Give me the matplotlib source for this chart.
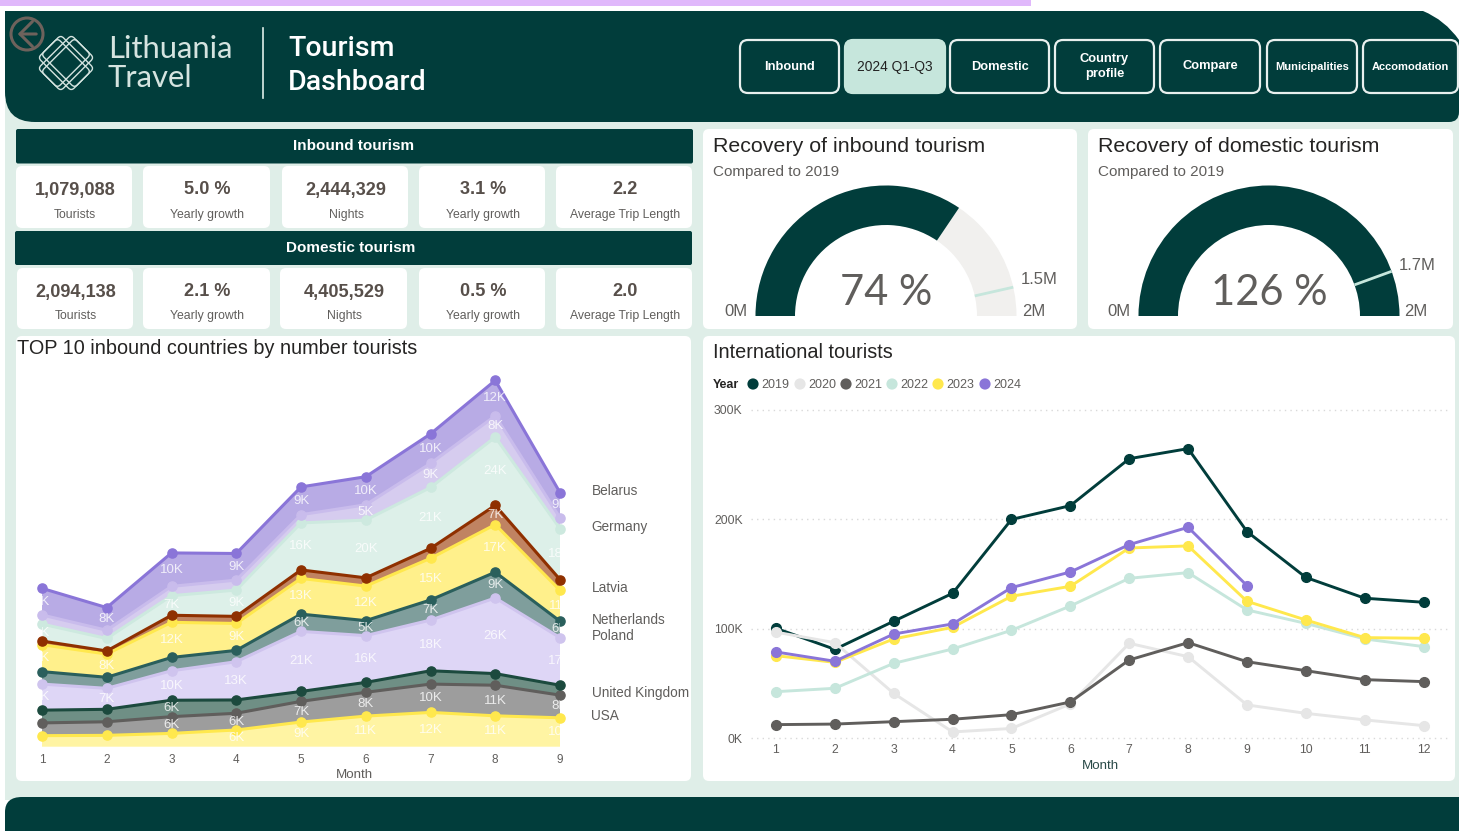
import numpy as np
import matplotlib
matplotlib.use("Agg")
import matplotlib.pyplot as plt
from matplotlib.patches import FancyBboxPatch, Rectangle, Wedge, PathPatch, Circle, FancyArrowPatch
from matplotlib.path import Path
from matplotlib.transforms import Affine2D

# ---------- data ----------
months_stack = [1, 2, 3, 4, 5, 6, 7, 8, 9]
usa_k       = [3.9, 4.0, 4.7, 5.9, 8.7, 10.8, 12.1, 10.9, 10.2]
grey_k      = [4.5, 4.8, 5.9, 5.9, 7.3, 8.4, 10.0, 10.8, 8.0]
uk_k        = [4.5, 4.4, 5.8, 4.7, 3.5, 3.5, 4.7, 4.1, 3.5]
poland_k    = [9.2, 7.4, 10.4, 13.5, 21.2, 16.5, 17.9, 26.7, 16.8]
nether_k    = [4.4, 3.9, 4.7, 4.0, 6.1, 5.3, 7.1, 9.1, 5.8]
yellow_k    = [9.5, 8.2, 12.4, 9.5, 12.6, 12.2, 14.7, 16.8, 10.9]
latvia_k    = [1.3, 1.1, 2.5, 2.5, 3.0, 2.9, 3.5, 6.8, 3.8]
mint_k      = [6.0, 4.4, 6.9, 9.3, 16.6, 20.4, 21.5, 24.1, 18.0]
germany_k   = [3.2, 2.9, 3.3, 3.5, 2.9, 5.4, 8.5, 7.5, 3.8]
belarus_k   = [9.4, 8.0, 11.8, 9.4, 9.8, 9.9, 10.4, 12.5, 8.9]
stack_values = [usa_k, grey_k, uk_k, poland_k, nether_k, yellow_k, latvia_k, mint_k, germany_k, belarus_k]
stack_line_colors = ['#ffe84d', '#605e5c', '#1c4a3e', '#cfc4ee', '#2a5f5c', '#ffe84d', '#8f3000', '#cde9df', '#c9bcec', '#8a75d8']
stack_fill_colors = ['#fff4a3', '#9d9d9d', '#6f8f85', '#ded6f6', '#7f9e9c', '#fff08b', '#c08362', '#ddf0e9', '#d6ccef', '#b8abe5']
stack_labels = [
    ['', '', '', '6K', '9K', '11K', '12K', '11K', '10K'],
    ['', '', '6K', '6K', '7K', '8K', '10K', '11K', '8K'],
    ['', '', '6K', '', '', '', '', '', ''],
    ['9K', '7K', '10K', '13K', '21K', '16K', '18K', '26K', '17K'],
    ['', '', '', '', '6K', '5K', '7K', '9K', '6K'],
    ['9K', '8K', '12K', '9K', '13K', '12K', '15K', '17K', '11K'],
    ['', '', '', '', '', '', '', '7K', ''],
    ['6K', '', '7K', '9K', '16K', '20K', '21K', '24K', '18K'],
    ['', '', '', '', '', '5K', '9K', '8K', ''],
    ['9K', '8K', '10K', '9K', '9K', '10K', '10K', '12K', '9K'],
]
end_names = ['Belarus', 'Germany', 'Latvia', 'Netherlands', 'Poland', 'United Kingdom', 'USA']

months_line = [1, 2, 3, 4, 5, 6, 7, 8, 9, 10, 11, 12]
y2019 = [100.5, 81.3, 107, 132.5, 200, 212.6, 255.5, 264.7, 188.9, 147, 128, 124.3]
y2020 = [97, 87.4, 41, 5.8, 9, 31.4, 86.8, 74.6, 30.5, 22.8, 16.8, 11.6]
y2021 = [12.5, 13, 15.2, 17.4, 21.6, 33.2, 71.6, 87.4, 70, 61.8, 53.6, 51.8]
y2022 = [42.6, 45.7, 68.5, 81.6, 98.7, 120.9, 146.2, 151.4, 117.3, 105, 90.8, 83.8]
y2023 = [75.5, 69.4, 90.8, 101.4, 129.8, 138.9, 173.9, 175.8, 125.2, 108.1, 92, 91.4]
y2024 = [78.9, 70.4, 95.3, 104.5, 137.7, 152, 177, 192.8, 139.5]
years = ['2019', '2020', '2021', '2022', '2023', '2024']
year_values = [y2019, y2020, y2021, y2022, y2023, y2024]
year_colors = ['#013d3b', '#e6e6e6', '#605e5c', '#c6e6dc', '#ffe84d', '#8a75d8']
yticks_k = [0, 100, 200, 300]
ytick_labels = ['0K', '100K', '200K', '300K']

kpi_top = [('1,079,088', 'Tourists'), ('5.0 %', 'Yearly growth'), ('2,444,329', 'Nights'),
           ('3.1 %', 'Yearly growth'), ('2.2', 'Average Trip Length')]
kpi_bot = [('2,094,138', 'Tourists'), ('2.1 %', 'Yearly growth'), ('4,405,529', 'Nights'),
           ('0.5 %', 'Yearly growth'), ('2.0', 'Average Trip Length')]
buttons = ['Inbound', '2024 Q1-Q3', 'Domestic', 'Country\nprofile', 'Compare', 'Municipalities', 'Accomodation']

gauge_values = [1.079, 2.094]
gauge_targets = [1.455, 1.662]
gauge_max = [1.566, 1.87]
gauge_text = ['74 %', '126 %']
gauge_target_text = ['1.5M', '1.7M']

# ---------- page ----------
W, H = 1459, 831
DARK = '#013d3b'
MINT = '#dfeee8'
GREY = '#605e5c'
plt.rcParams['font.family'] = ['Liberation Sans', 'DejaVu Sans']
fig = plt.figure(figsize=(W / 100, H / 100), dpi=100, facecolor='white')
bg = fig.add_axes([0, 0, 1, 1], zorder=0)
bg.set_xlim(0, W); bg.set_ylim(H, 0); bg.axis('off')


def T(x, y, s, size, color=GREY, ha='center', va='center', **kw):
    return bg.text(x, y, s, fontsize=size, color=color, ha=ha, va=va, **kw)


def card(x0, y0, x1, y1, fc='white', ec='none', r=6, lw=0, z=2):
    bg.add_patch(FancyBboxPatch((x0, y0), x1 - x0, y1 - y0, boxstyle=f'round,pad=0,rounding_size={r}',
                                fc=fc, ec=ec, lw=lw, zorder=z))


bg.add_patch(Rectangle((5, 100), W - 5, 700, fc=MINT, ec='none', zorder=1))
bg.add_patch(Rectangle((0, 0), 1031, 6, fc='#e0b8fb', ec='none', zorder=1))

# header
verts = [(5, 11), (1423, 11), (1445, 20), (1459, 40), (1459, 112), (1459, 122), (1449, 122),
         (35, 122), (5, 122), (5, 92), (5, 11)]
codes = [Path.MOVETO, Path.LINETO, Path.CURVE3, Path.CURVE3, Path.LINETO, Path.CURVE3, Path.CURVE3,
         Path.LINETO, Path.CURVE3, Path.CURVE3, Path.CLOSEPOLY]
bg.add_patch(PathPatch(Path(verts, codes), fc=DARK, ec='none', zorder=2))
# footer
verts = [(5, 831), (5, 812), (5, 797), (22, 797), (W, 797), (W, 831), (5, 831)]
codes = [Path.MOVETO, Path.LINETO, Path.CURVE3, Path.CURVE3, Path.LINETO, Path.LINETO, Path.CLOSEPOLY]
bg.add_patch(PathPatch(Path(verts, codes), fc=DARK, ec='none', zorder=2))

# logo
cx, cy = 66, 63
tr = Affine2D().rotate_deg_around(cx, cy, 45) + bg.transData
for half in (11.5, 16):
    for w, h in ((23.5, half), (half, 23.5)):
        bg.add_patch(FancyBboxPatch((cx - w, cy - h), 2 * w, 2 * h, boxstyle='round,pad=0,rounding_size=4',
                                    fc='none', ec='#d5e4e0', lw=1.0, zorder=3, transform=tr))
bg.add_patch(Circle((27, 34), 16, fc='none', ec='#6e625c', lw=2.2, zorder=4))
bg.add_patch(FancyArrowPatch((39, 34), (15, 34), arrowstyle='->,head_length=6,head_width=6', color='#6e625c',
                             lw=2.2, zorder=4, mutation_scale=1.5))
T(108, 49, 'Lithuania', 22.3, '#d5e4e0', ha='left', family='Lato', zorder=5)
T(108, 78, 'Travel', 22.3, '#d5e4e0', ha='left', family='Lato', zorder=5)
bg.plot([263, 263], [28, 98], color='#dfeee8', lw=1.2, zorder=5)
T(288, 49, 'Tourism', 20.5, 'white', ha='left', family='Roboto', weight='medium', zorder=5)
T(288, 82.5, 'Dashboard', 20.5, 'white', ha='left', family='Roboto', weight='medium', zorder=5)

btn_x = [(740, 839), (845, 945), (950, 1049), (1055, 1154), (1160, 1260), (1267, 1357), (1363, 1458)]
for i, (label, (a, b)) in enumerate(zip(buttons, btn_x)):
    active = i == 1
    card(a, 40, b, 93, fc='#c6e6dc' if active else DARK, ec='#c6e6dc' if active else '#e8f0ee', lw=1.6, r=8, z=3)
    size = 8 if i >= 5 else (9.9 if active else 9.3)
    T((a + b) / 2, 66.5, label, size, '#222222' if active else 'white', weight='normal' if active else 'bold',
      zorder=5, linespacing=1.35)

# KPI bars
card(16, 129, 693, 163.5, fc=DARK, r=2)
card(15, 231, 692, 265, fc=DARK, r=2)
T(354, 146, 'Inbound tourism', 11, 'white', weight='bold', zorder=5)
T(351, 247.5, 'Domestic tourism', 11, 'white', weight='bold', zorder=5)
xs_top = [(16, 132), (143, 270), (282, 408), (419, 545), (556, 692)]
xs_bot = [(17, 133), (143, 270), (280, 407), (419, 545), (556, 692)]
for xs, kpi, y0, y1, yv, ys in ((xs_top, kpi_top, 166, 228, 190, 215), (xs_bot, kpi_bot, 268, 329, 292, 316)):
    for (a, b), (val, sub) in zip(xs, kpi):
        card(a, y0, b, y1)
        T((a + b) / 2 + 1, yv, val, 13.1, '#574f4a', weight='bold', zorder=5)
        T((a + b) / 2 + 1, ys, sub, 8.8, GREY, zorder=5)

# gauges
panels = [(703, 1077), (1088, 1453)]
centers = [886, 1269]
titles = ['Recovery of inbound tourism', 'Recovery of domestic tourism']
for i, ((a, b), cx) in enumerate(zip(panels, centers)):
    card(a, 129, b, 329)
    T(a + 10, 146, titles[i], 15.4, '#252423', ha='left', zorder=5)
    T(a + 10, 172, 'Compared to 2019', 11, GREY, ha='left', zorder=5)
    frac = min(gauge_values[i] / gauge_max[i], 1)
    bg.add_patch(Wedge((cx, 316), 130.5, 180, 360, width=39.5, fc='#f1f0ee', ec='none', zorder=3))
    bg.add_patch(Wedge((cx, 316), 130.5, 180, 180 + 180 * frac, width=39.5, fc=DARK, ec='none', zorder=4))
    ang = np.pi * (1 - gauge_targets[i] / gauge_max[i])
    bg.plot([cx + 91 * np.cos(ang), cx + 130.5 * np.cos(ang)], [316 - 91 * np.sin(ang), 316 - 130.5 * np.sin(ang)],
            color='#c6e6dc', lw=2, zorder=5, solid_capstyle='butt')
    T(cx, 293, gauge_text[i], 30, GREY, family='Lato', zorder=5)
    T(cx - 150, 311, '0M', 12, GREY, zorder=5)
    T(cx + 148 if i == 0 else cx + 147, 311, '2M', 12, GREY, zorder=5)
T(1039, 279, gauge_target_text[0], 12, GREY, zorder=5)
T(1417, 265, gauge_target_text[1], 12, GREY, zorder=5)

# chart panels
card(16, 336, 691, 781)
card(703, 336, 1455, 781)
T(17, 348, 'TOP 10 inbound countries by number tourists', 14.3, '#252423', ha='left', zorder=5)
T(713, 352, 'International tourists', 14.3, '#252423', ha='left', zorder=5)

# ---------- stacked area ----------
X0, X1, Y0, PXK = 42, 560, 746.7, 2.833
YMAX = 140
ax = fig.add_axes([X0 / W, (H - Y0) / H, (X1 - X0) / W, YMAX * PXK / H], zorder=5)
ax.patch.set_alpha(0)
ax.set_xlim(1, 9); ax.set_ylim(0, YMAX)
for s in ax.spines.values():
    s.set_visible(False)
ax.set_yticks([])
ax.stackplot(months_stack, *stack_values, colors=stack_fill_colors, lw=0)
cum = np.cumsum(np.array(stack_values), axis=0)
base = np.vstack([np.zeros(len(months_stack)), cum[:-1]])
for i, c in enumerate(stack_line_colors):
    ax.plot(months_stack, cum[i], color=c, lw=2.2, marker='o', ms=6.6, clip_on=False, zorder=3 + i * .1)
for i, labels in enumerate(stack_labels):
    for m, lab, lo, hi in zip(months_stack, labels, base[i], cum[i]):
        if lab:
            ax.text(m, (lo + hi) / 2, lab, color='white', alpha=0.8, fontsize=9.5, ha='center', va='center',
                    clip_on=True, zorder=6)
ax.set_xticks(months_stack)
ax.tick_params(axis='x', length=0, pad=5, labelsize=8.5, labelcolor=GREY)
T(354.5, 775.5, 'Month', 9.6, GREY, zorder=6)
for name, y in zip(end_names, [491, 526.5, 587.5, 619.5, 635.5, 692.5, 715.5]):
    T(591.5, y, name, 9.8, GREY, ha='left', zorder=6)

# ---------- lines ----------
XL0, XL1, YB, YT = 776.0, 1423.6, 738.3, 410.0
pxm = (XL1 - XL0) / 11
AL, AR = 751, 1448
ax2 = fig.add_axes([AL / W, (H - YB) / H, (AR - AL) / W, (YB - YT) / H], zorder=5)
ax2.patch.set_alpha(0)
ax2.set_xlim(1 - (XL0 - AL) / pxm, 12 + (AR - XL1) / pxm)
ax2.set_ylim(0, 300)
for s in ax2.spines.values():
    s.set_visible(False)
ax2.set_yticks(yticks_k, ytick_labels)
ax2.set_xticks(months_line)
ax2.tick_params(axis='both', length=0, labelsize=8.8, labelcolor=GREY)
ax2.tick_params(axis='x', pad=4)
ax2.tick_params(axis='y', pad=6)
ax2.grid(axis='y', color='#d9d9d9', lw=1, ls=(0, (1, 3)), clip_on=False)
ax2.set_axisbelow(True)
for i, (v, c) in enumerate(zip(year_values, year_colors)):
    ax2.plot(months_line[:len(v)], v, color=c, lw=2.1, marker='o', ms=7.0, clip_on=False, zorder=3 + i * .1)
T(1100, 766, 'Month', 9.6, '#2a4a48', zorder=6)

T(713, 384.5, 'Year', 9, '#252423', ha='left', weight='bold', zorder=6)
for name, c, x in zip(years, year_colors, [753, 800, 846, 892, 938, 985]):
    bg.add_patch(Circle((x, 384), 5.6, fc=c, ec='none', zorder=6))
    T(x + 8, 384.5, name, 9, GREY, ha='left', zorder=6)

fig.savefig('out.png', dpi=100, facecolor='white')
